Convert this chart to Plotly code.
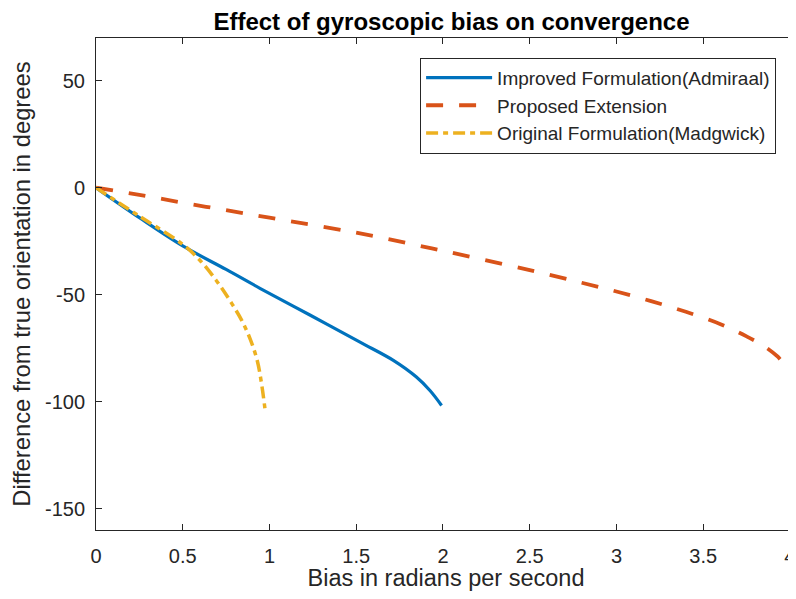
import plotly.graph_objects as go

# values
bias_admiraal = [0, 0.25, 0.5, 0.75, 0.945, 1.233, 1.522, 1.714, 1.847, 1.925, 1.992]
diff_admiraal = [0, -14, -27.2, -38.2, -47, -59.5, -72.2, -80.7, -88.5, -94.8, -101.8]

bias_proposed = [0, 0.25, 0.5, 0.75, 1.0, 1.5, 2.0, 2.5, 2.8, 3.0, 3.2, 3.4, 3.6, 3.75, 3.85, 3.93, 3.96]
diff_proposed = [0, -3.3, -7, -10.5, -14, -21, -29.5, -38.5, -44.4, -48.5, -53, -58, -63.8, -69.5, -74, -79, -82]

bias_madgwick = [0, 0.25, 0.5, 0.6, 0.69, 0.77, 0.84, 0.89, 0.93, 0.955, 0.975]
diff_madgwick = [0, -13.3, -26.5, -34, -43, -52.5, -62, -71, -81, -92, -104]

x_ticks = [0, 0.5, 1, 1.5, 2, 2.5, 3, 3.5, 4]
x_labels = ['0', '0.5', '1', '1.5', '2', '2.5', '3', '3.5', '4']
y_ticks = [-150, -100, -50, 0, 50]
y_labels = ['-150', '-100', '-50', '0', '50']

FONT = 'Liberation Sans, Arial, sans-serif'
AXIS_COLOR = '#262626'

fig = go.Figure()
fig.add_trace(go.Scatter(
    x=bias_admiraal, y=diff_admiraal, mode='lines',
    name='Improved Formulation(Admiraal)',
    line=dict(color='#0072BD', width=3.2, shape='spline', smoothing=1),
))
fig.add_trace(go.Scatter(
    x=bias_proposed, y=diff_proposed, mode='lines',
    name='Proposed Extension',
    line=dict(color='#D95319', width=3.8, dash='17px,16px', shape='spline', smoothing=1),
))
fig.add_trace(go.Scatter(
    x=bias_madgwick, y=diff_madgwick, mode='lines',
    name='Original Formulation(Madgwick)',
    line=dict(color='#EDB120', width=3.5, dash='12px,5px,5px,5px', shape='spline', smoothing=1),
))

axis_common = dict(
    showgrid=False, zeroline=False, automargin=False,
    showline=True, linecolor=AXIS_COLOR, linewidth=1,
    ticks='inside', ticklen=6, tickcolor=AXIS_COLOR, mirror='ticks',
    tickfont=dict(family=FONT, size=20, color=AXIS_COLOR),
)

# the page body adds an 8px offset, so the figure is smaller than the window
fig.update_layout(
    width=788, height=583,
    margin=dict(l=88, r=0, t=30, b=61),
    paper_bgcolor='white', plot_bgcolor='white',
    title=dict(
        text='<b>Effect of gyroscopic bias on convergence</b>',
        x=0.5628, xanchor='center', y=0.977, yanchor='middle',
        font=dict(family=FONT, size=24, color='black'),
    ),
    xaxis=dict(
        range=[0, 4.035], tickvals=x_ticks, ticktext=x_labels, ticklabelstandoff=8,
        title=dict(text='Bias in radians per second', standoff=8,
                   font=dict(family=FONT, size=23.5, color=AXIS_COLOR)),
        **axis_common,
    ),
    yaxis=dict(
        range=[-160, 70], tickvals=y_ticks, ticktext=y_labels, ticklabelstandoff=6,
        title=dict(text='Difference from true orientation in degrees', standoff=8,
                   font=dict(family=FONT, size=23.8, color=AXIS_COLOR)),
        **axis_common,
    ),
    legend=dict(
        x=0.463, y=0.96, xanchor='left', yanchor='top',
        bgcolor='white', bordercolor=AXIS_COLOR, borderwidth=1,
        font=dict(family=FONT, size=19, color=AXIS_COLOR),
        itemwidth=66, tracegroupgap=0,
    ),
    showlegend=True,
)

fig.write_html('out.html')
